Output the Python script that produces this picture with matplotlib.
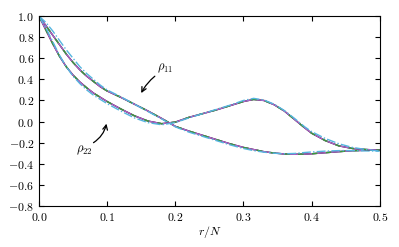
import numpy as np
import matplotlib
matplotlib.use("Agg")
import matplotlib.pyplot as plt

plt.rcParams.update({
    "font.family": "serif",
    "font.serif": ["cmr10"],
    "mathtext.fontset": "cm",
    "axes.formatter.use_mathtext": True,
    "font.size": 8.5,
    "xtick.direction": "in",
    "ytick.direction": "in",
    "xtick.top": True,
    "ytick.right": True,
    "xtick.major.size": 3.5,
    "ytick.major.size": 3.5,
})

# r/N grid
r = [0.0, 0.01, 0.02, 0.03, 0.04, 0.05, 0.06, 0.07, 0.08, 0.09, 0.10,
     0.12, 0.14, 0.16, 0.18, 0.20, 0.22, 0.24, 0.26, 0.28, 0.30, 0.315,
     0.33, 0.345, 0.36, 0.375, 0.39, 0.40, 0.42, 0.44, 0.46, 0.48, 0.50]

# rho_11 (exact curves)
rho11 = [1.0, 0.91, 0.82, 0.73, 0.64, 0.56, 0.49, 0.43, 0.38, 0.33, 0.29,
         0.23, 0.165, 0.10, 0.03, -0.045, -0.09, -0.13, -0.17, -0.21, -0.245, -0.265,
         -0.285, -0.298, -0.307, -0.31, -0.308, -0.305, -0.295, -0.285, -0.276, -0.272, -0.27]
# rho_22 (exact curves)
rho22 = [1.0, 0.87, 0.74, 0.62, 0.52, 0.44, 0.375, 0.32, 0.27, 0.23, 0.19,
         0.12, 0.055, 0.005, -0.02, -0.005, 0.04, 0.075, 0.11, 0.15, 0.19, 0.21,
         0.20, 0.16, 0.10, 0.02, -0.06, -0.11, -0.18, -0.23, -0.255, -0.265, -0.27]

# approximate (dash-dot) curves
rho11_fit = [1.0, 0.94, 0.86, 0.77, 0.68, 0.60, 0.52, 0.455, 0.40, 0.345, 0.30,
             0.235, 0.165, 0.095, 0.025, -0.05, -0.10, -0.14, -0.18, -0.22, -0.255, -0.275,
             -0.29, -0.30, -0.305, -0.302, -0.293, -0.288, -0.28, -0.275, -0.275, -0.278, -0.28]
rho22_fit = [1.0, 0.89, 0.76, 0.63, 0.52, 0.43, 0.36, 0.30, 0.25, 0.21, 0.17,
             0.10, 0.035, -0.01, -0.03, -0.01, 0.035, 0.075, 0.115, 0.155, 0.20, 0.22,
             0.205, 0.165, 0.105, 0.03, -0.05, -0.095, -0.16, -0.21, -0.245, -0.265, -0.28]

fig = plt.figure(figsize=(3.99, 2.47), dpi=100)
ax = fig.add_axes([0.0977, 0.166, 0.854, 0.769])

for y, y_fit in [(rho11, rho11_fit), (rho22, rho22_fit)]:
    ax.plot(r, y, color="k", lw=1.0)
    ax.plot(r, y, color="#b060c8", lw=1.0)
    ax.plot(r, y, color="#3a9a3a", lw=1.0, ls="--", dashes=(4, 6))
    ax.plot(r, y_fit, color="#55b5e0", lw=1.0, ls="-.")

# labels and arrows
ax.text(0.185, 0.50, r"$\rho_{11}$", ha="center", va="center", fontsize=9)
ax.annotate("", xy=(0.150, 0.27), xytext=(0.170, 0.43),
            arrowprops=dict(arrowstyle="->", color="k", lw=0.9,
                            shrinkA=0, shrinkB=0,
                            connectionstyle="arc3,rad=0.1"))
ax.text(0.066, -0.27, r"$\rho_{22}$", ha="center", va="center", fontsize=9)
ax.annotate("", xy=(0.099, -0.02), xytext=(0.080, -0.20),
            arrowprops=dict(arrowstyle="->", color="k", lw=0.9,
                            shrinkA=0, shrinkB=0,
                            connectionstyle="arc3,rad=0.2"))

ax.set_xlim(0, 0.5)
ax.set_ylim(-0.8, 1.0)
ax.set_xticks(np.arange(0, 0.51, 0.1))
ax.set_yticks(np.arange(-0.8, 1.01, 0.2))
ax.set_xlabel(r"$r/N$", labelpad=1)

fig.savefig("out.png", dpi=100)
